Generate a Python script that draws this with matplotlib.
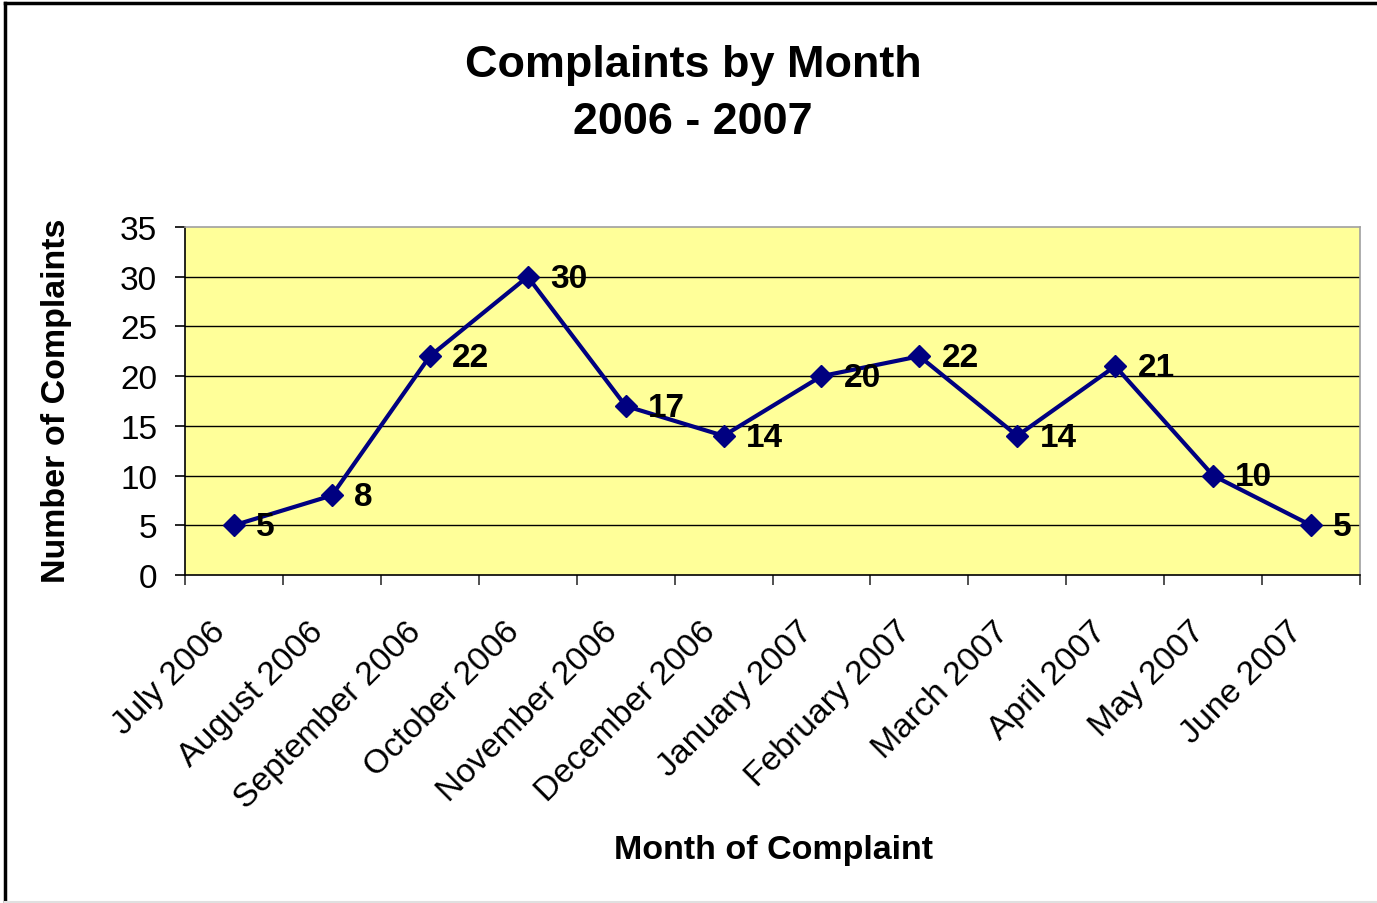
import matplotlib
matplotlib.use("Agg")
import matplotlib.pyplot as plt
from matplotlib.lines import Line2D
from matplotlib.transforms import ScaledTranslation

months = ["July 2006", "August 2006", "September 2006", "October 2006", "November 2006",
          "December 2006", "January 2007", "February 2007", "March 2007", "April 2007",
          "May 2007", "June 2007"]
complaints = [5, 8, 22, 30, 17, 14, 20, 22, 14, 21, 10, 5]
yticks = [0, 5, 10, 15, 20, 25, 30, 35]

plt.rcParams['font.family'] = ['Liberation Sans', 'DejaVu Sans']

W, H = 1377, 904
fig = plt.figure(figsize=(W / 100, H / 100), dpi=100)
ax = fig.add_axes([185 / W, 1 - 576 / H, (1360 - 185) / W, (576 - 228) / H])
ax.set_facecolor('#FFFF99')

x = list(range(len(months)))
ax.plot(x, complaints, color='#000080', lw=3, marker='D', markersize=11.5,
        markerfacecolor='#000080', markeredgecolor='#000080', zorder=3, clip_on=False)
for xi, v in zip(x, complaints):
    ax.annotate(str(v), (xi, v), xytext=(16, -1), textcoords='offset points',
                ha='left', va='center', fontsize=24, fontweight='bold', color='black', zorder=4)

ax.set_xlim(-0.5, len(months) - 0.5)
ax.set_ylim(0, 35)
ax.set_yticks(yticks)
ax.set_yticklabels([str(t) for t in yticks], fontsize=24)
for t in yticks[1:-1]:
    ax.axhline(t, color='black', lw=1, zorder=1)

ax.set_xticks([i - 0.5 for i in range(len(months) + 1)])
ax.set_xticklabels([])
ax.set_xticks(x, minor=True)
ax.set_xticklabels(months, minor=True, rotation=45, ha='right', va='top',
                   rotation_mode='anchor', fontsize=24.3)
ax.tick_params(axis='x', which='minor', length=0, pad=29)
ax.tick_params(axis='x', which='major', length=7, width=1.2, direction='out', color='#333333')
ax.tick_params(axis='y', length=7, width=1.2, direction='out', pad=13)
shift = ScaledTranslation(-24 / 100, 0, fig.dpi_scale_trans)
for lab in ax.get_xticklabels(minor=True):
    lab.set_transform(lab.get_transform() + shift)

for s in ['left', 'bottom']:
    ax.spines[s].set_color('black')
    ax.spines[s].set_linewidth(1.2)
for s in ['top', 'right']:
    ax.spines[s].set_color('#A0A0A0')
    ax.spines[s].set_linewidth(1.2)

fig.text(57 / W, 1 - 401 / H, 'Number of Complaints', ha='center', va='center', rotation=90,
         fontsize=24.5, fontweight='bold')
fig.text(774 / W, 1 - 851 / H, 'Month of Complaint', ha='center', va='center',
         fontsize=24.5, fontweight='bold')
fig.text(693 / W, 1 - 65 / H, 'Complaints by Month', ha='center', va='center',
         fontsize=32.4, fontweight='bold')
fig.text(693 / W, 1 - 122 / H, '2006 - 2007', ha='center', va='center',
         fontsize=32.4, fontweight='bold')

# outer chart border
fig.add_artist(Line2D([5 / W, 5 / W], [0, 1 - 4 / H], color='black', lw=2.5, transform=fig.transFigure))
fig.add_artist(Line2D([5 / W, 1], [1 - 4 / H, 1 - 4 / H], color='black', lw=2.5, transform=fig.transFigure))
fig.add_artist(Line2D([5 / W, 1], [1.5 / H, 1.5 / H], color='#E0E0E0', lw=1.5, transform=fig.transFigure))

fig.savefig('out.png', dpi=100, facecolor='white')
